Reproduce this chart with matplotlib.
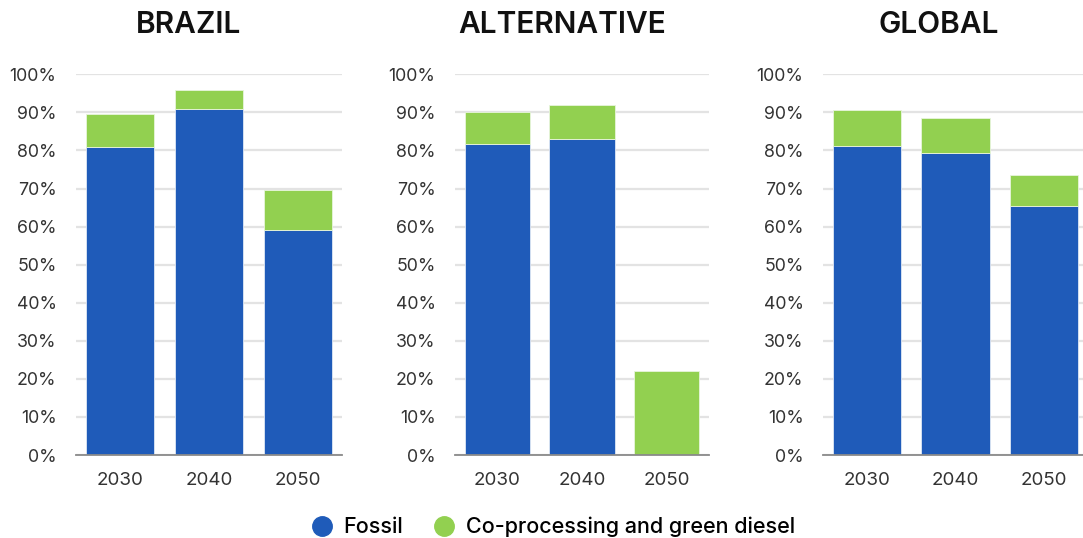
import numpy as np
import matplotlib.pyplot as plt

plt.rcParams['font.family'] = ['Inter', 'DejaVu Sans']

# data (shares in %)
years = ["2030", "2040", "2050"]
regions = ["BRAZIL", "ALTERNATIVE", "GLOBAL"]
fossil = {
    "BRAZIL": [81, 91, 59],
    "ALTERNATIVE": [81.6, 83, 0],
    "GLOBAL": [81.2, 79.4, 65.5],
}
green = {
    "BRAZIL": [8.5, 5, 10.6],
    "ALTERNATIVE": [8.4, 9, 22],
    "GLOBAL": [9.3, 9.1, 8],
}

BLUE = "#1f5bb9"
GREEN = "#92d050"

W, H = 1083, 538
fig = plt.figure(figsize=(W / 100, H / 100), dpi=100)

# axes boxes in pixels: left, width ; title centre
boxes = [(76, 266, 189), (455, 254, 562), (823, 265, 939)]
bottom = (H - 455) / H
height = (455 - 74.3) / H

x = np.arange(len(years))
for reg, (left, width, tcx) in zip(regions, boxes):
    ax = fig.add_axes([left / W, bottom, width / W, height])
    ax.bar(x, fossil[reg], 0.77, color=BLUE, edgecolor="#dfe8f5", linewidth=0.6, zorder=3)
    ax.bar(x, green[reg], 0.77, bottom=fossil[reg], color=GREEN, edgecolor="#e8f5dc", linewidth=0.6, zorder=3)
    ax.set_xlim(-0.5, 2.5)
    ax.set_ylim(0, 100)
    ax.set_yticks(range(0, 101, 10))
    ax.set_yticklabels([f"{v}%" for v in range(0, 101, 10)])
    ax.set_xticks(x)
    ax.set_xticklabels(years)
    ax.grid(axis="y", color="#e3e3e3", linewidth=1.6, zorder=0)
    ax.tick_params(length=0, colors="#333333")
    ax.tick_params(axis="y", pad=14, labelsize=12.8)
    ax.tick_params(axis="x", pad=12, labelsize=13.5)
    for s in ["top", "right", "left"]:
        ax.spines[s].set_visible(False)
    ax.spines["bottom"].set_color("#8a8a8a")
    ax.spines["bottom"].set_linewidth(1.3)
    ax.spines["bottom"].set_zorder(4)
    fig.text(tcx / W, 1 - 25 / H, reg, ha="center", va="center",
             fontsize=21.5, fontweight="semibold", color="#111111")

# legend
handles = [plt.Line2D([], [], marker="o", linestyle="", markersize=14, color=BLUE),
           plt.Line2D([], [], marker="o", linestyle="", markersize=14, color=GREEN)]
fig.legend(handles, ["Fossil", "Co-processing and green diesel"], loc="center",
           bbox_to_anchor=(552 / W, 1 - 527 / H), ncol=2, frameon=False,
           handletextpad=0.4, columnspacing=1.3, handlelength=1.2,
           prop={"size": 15.5, "weight": "medium"})

fig.savefig("out.png", dpi=100)
